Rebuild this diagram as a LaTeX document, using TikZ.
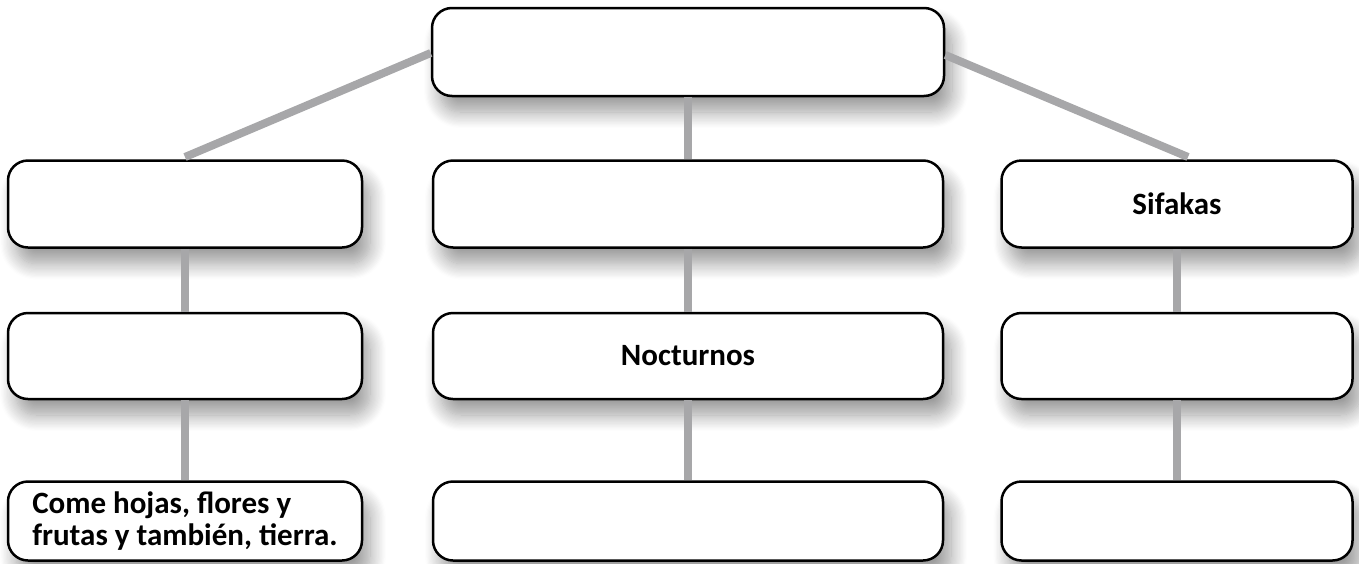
\documentclass[tikz,border=0pt]{standalone}
\usepackage{fontspec}
\setmainfont{Carlito}
\usetikzlibrary{shadows.blur}
\definecolor{linkgray}{HTML}{A7A7A9}
\tikzset{
  box/.style={draw=black, line width=2.5pt, rounded corners=20pt, fill=white,
    blur shadow={shadow xshift=8pt, shadow yshift=-16pt, shadow blur radius=16pt,
      shadow blur steps=14, shadow opacity=40},
    font=\fontsize{31}{32}\selectfont\bfseries, inner sep=0pt},
  link/.style={draw=linkgray, line width=8pt}
}
\begin{document}
\begin{tikzpicture}[x=1pt, y=-1pt]
      \useasboundingbox (0,0) rectangle (1359,563);
      % boxes
      \node[box, minimum width=512pt, minimum height=88pt] (top) at (688,52) {};
      \node[box, minimum width=354pt, minimum height=87pt] (l1) at (185,204) {};
      \node[box, minimum width=510pt, minimum height=87pt] (m1) at (688,204) {};
      \node[box, minimum width=351pt, minimum height=87pt] (r1) at (1177,204) {Sifakas};
      \node[box, minimum width=354pt, minimum height=86pt] (l2) at (185,356) {};
      \node[box, minimum width=510pt, minimum height=86pt] (m2) at (688,356) {Nocturnos};
      \node[box, minimum width=351pt, minimum height=86pt] (r2) at (1177,356) {};
      \node[box, minimum width=354pt, minimum height=79pt, align=left] (l3) at (185,521) {Come hojas, flores y\\frutas y también, tierra.};
      \node[box, minimum width=510pt, minimum height=79pt] (m3) at (688,521) {};
      \node[box, minimum width=351pt, minimum height=79pt] (r3) at (1177,521) {};
      % links
      \coordinate (lend) at (185,157);
      \coordinate (rend) at (1188,157);
      \draw[link] (top.west) ++(0,1) -- (lend);
      \draw[link] (top.east) ++(0,3) -- (rend);
      \draw[link] (top.south) -- (m1.north);
      \draw[link] (l1.south) -- (l2.north);
      \draw[link] (m1.south) -- (m2.north);
      \draw[link] (r1.south) -- (r2.north);
      \draw[link] (l2.south) -- (l3.north);
      \draw[link] (m2.south) -- (m3.north);
      \draw[link] (r2.south) -- (r3.north);
    \end{tikzpicture}
\end{document}
